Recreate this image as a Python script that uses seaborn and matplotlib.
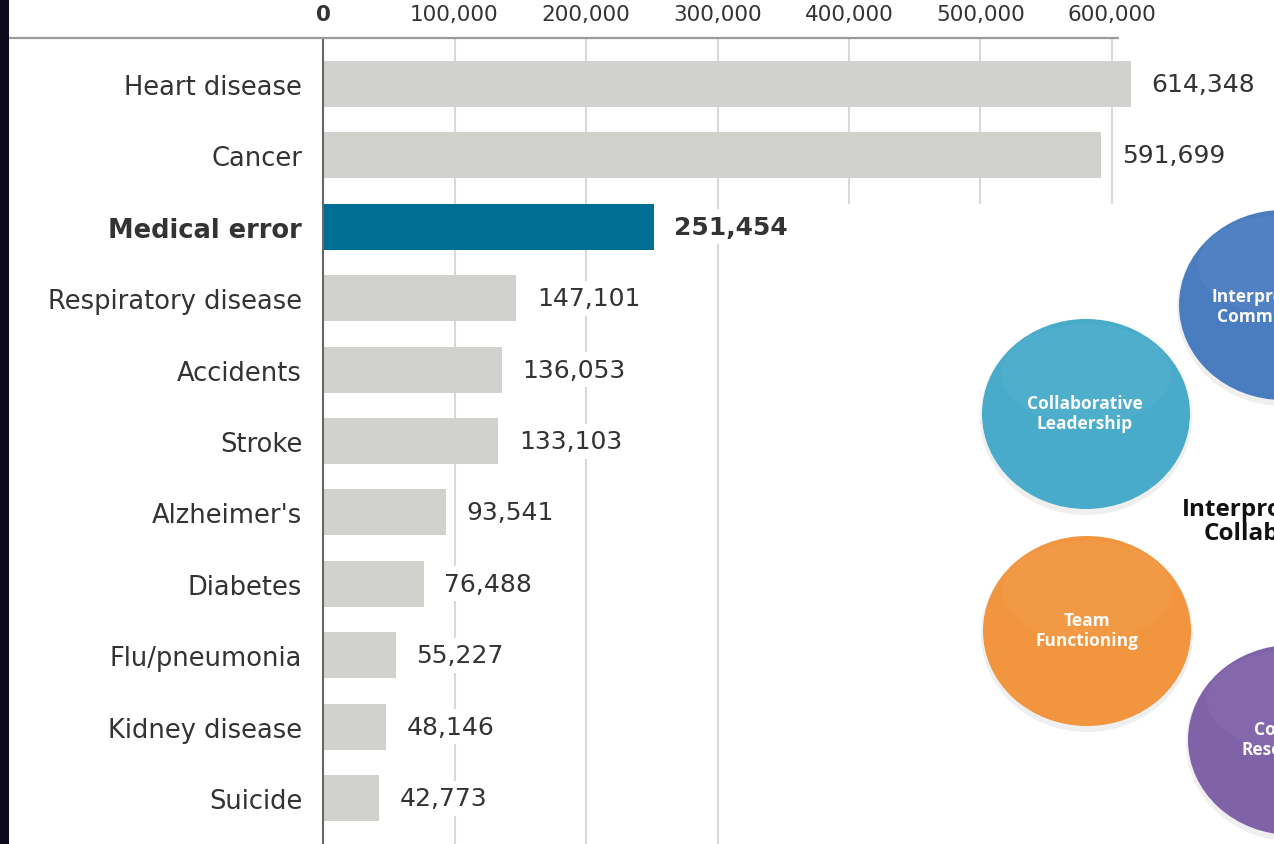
import matplotlib
matplotlib.use("Agg")
import matplotlib.pyplot as plt
import matplotlib.transforms as mtransforms
from matplotlib.patches import Rectangle, Ellipse
from matplotlib.lines import Line2D
import seaborn as sns

# ---- data ----
categories = ["Heart disease", "Cancer", "Medical error", "Respiratory disease",
              "Accidents", "Stroke", "Alzheimer's", "Diabetes", "Flu/pneumonia",
              "Kidney disease", "Suicide"]
deaths = [614348, 591699, 251454, 147101, 136053, 133103, 93541, 76488,
          55227, 48146, 42773]
highlight = "Medical error"
tick_values = [0, 100000, 200000, 300000, 400000, 500000, 600000]
tick_labels = ["0", "100,000", "200,000", "300,000", "400,000", "500,000", "600,000"]

# decorative diagram (pasted image in the original)
bubble_labels = ["Interprofessional\nCommunication", "Collaborative\nLeadership",
                 "Team\nFunctioning", "Conflict\nResolution"]
bubble_colors = ["#4a7cc0", "#48abc9", "#f2953f", "#7f62a8"]
center_label = "Interprofessional\nCollaboration"

W, H = 1274, 845
GRAY = "#d1d1cd"
BLUE = "#006d94"
TXT = "#333333"

sns.set_theme(style="white")
plt.rcParams["font.family"] = ["DejaVu Sans"]

fig = plt.figure(figsize=(W / 100, H / 100), dpi=100)
fig.patch.set_facecolor("white")
ax = fig.add_axes([323 / W, 0, (W - 323) / W, (H - 39) / H])

bar_colors = {c: (BLUE if c == highlight else GRAY) for c in categories}
sns.barplot(x=deaths, y=categories, hue=categories, palette=bar_colors,
            legend=False, width=0.645, saturation=1, orient="h",
            edgecolor="none", ax=ax, zorder=2)

ax.set_xlim(0, (W - 323) / 131.5 * 100000)
ax.set_ylim(10.644, -0.644)
ax.set_xlabel("")
ax.set_ylabel("")

# x axis on top
ax.xaxis.tick_top()
ax.set_xticks(tick_values)
ax.set_xticklabels(tick_labels, fontsize=15.5, color=TXT)
ax.get_xticklabels()[0].set_fontweight("bold")
ax.tick_params(axis="x", length=0, pad=10)
ax.tick_params(axis="y", length=0, pad=15)
for lbl in ax.get_yticklabels():
    lbl.set_fontsize(18.5)
    lbl.set_color(TXT)
    if lbl.get_text() == highlight:
        lbl.set_fontweight("bold")

ax.grid(axis="x", color="#d9d9d9", lw=1.5, zorder=0)
ax.grid(axis="y", visible=False)
ax.set_axisbelow(True)
for s in ["top", "right", "bottom"]:
    ax.spines[s].set_visible(False)
ax.spines["left"].set_color("#666666")
ax.spines["left"].set_linewidth(1.5)
ax.spines["left"].set_zorder(3)

# white mask for the pasted diagram region
px = mtransforms.Affine2D().scale(1 / W, -1 / H).translate(0, 1) + fig.transFigure
ax.add_patch(Rectangle((721, 205), W - 721, H - 205, transform=px,
                       facecolor="white", edgecolor="none", zorder=1.5,
                       clip_on=False))

# value labels
for i, (c, v) in enumerate(zip(categories, deaths)):
    bold = c == highlight
    ax.annotate(f"{v:,}", xy=(v, i), xytext=(15, 0), textcoords="offset points",
                ha="left", va="center", fontsize=18, color=TXT,
                fontweight="bold" if bold else "normal",
                bbox=dict(facecolor="white", edgecolor="none", pad=4),
                zorder=3, annotation_clip=False)

# top rule and left border
fig.add_artist(Line2D([8 / W, 1118 / W], [1 - 39 / H, 1 - 39 / H],
                      color="#9a9a9a", lw=1.6, zorder=5))
fig.add_artist(Rectangle((0, 0), 9 / W, 1, transform=fig.transFigure,
                         facecolor="#0b0b1c", edgecolor="none", zorder=5))

# decorative bubbles
centers = [(1283, 306), (1086, 415), (1087, 632), (1292, 741)]
text_pos = [(1286, 307), (1085, 414), (1087, 631), (1288, 740)]
for (cx, cy), (tx, ty), col, lab in zip(centers, text_pos, bubble_colors, bubble_labels):
    ax.add_patch(Ellipse((cx, cy + 3), 212, 196, transform=px,
                         facecolor="#dcdcdc", edgecolor="none", alpha=0.45,
                         zorder=4, clip_on=False))
    ax.add_patch(Ellipse((cx, cy), 208, 190, transform=px, facecolor=col,
                         edgecolor="none", zorder=4.1, clip_on=False))
    ax.add_patch(Ellipse((cx, cy - 40), 170, 100, transform=px, facecolor="white",
                         edgecolor="none", alpha=0.04, zorder=4.2, clip_on=False))
    ax.text(tx, ty, lab, transform=px, ha="center", va="center", color="#fbfbf5",
            fontsize=12.5, fontweight="bold", family=["Open Sans", "DejaVu Sans"],
            linespacing=1.2, zorder=4.3, clip_on=False)

ax.text(1286, 522, center_label, transform=px, ha="center", va="center",
        color="#111111", fontsize=17.5, fontweight="bold",
        family=["Open Sans", "DejaVu Sans"], linespacing=1.05, zorder=4.3,
        clip_on=False)

fig.savefig("out.png", dpi=100, facecolor="white")
